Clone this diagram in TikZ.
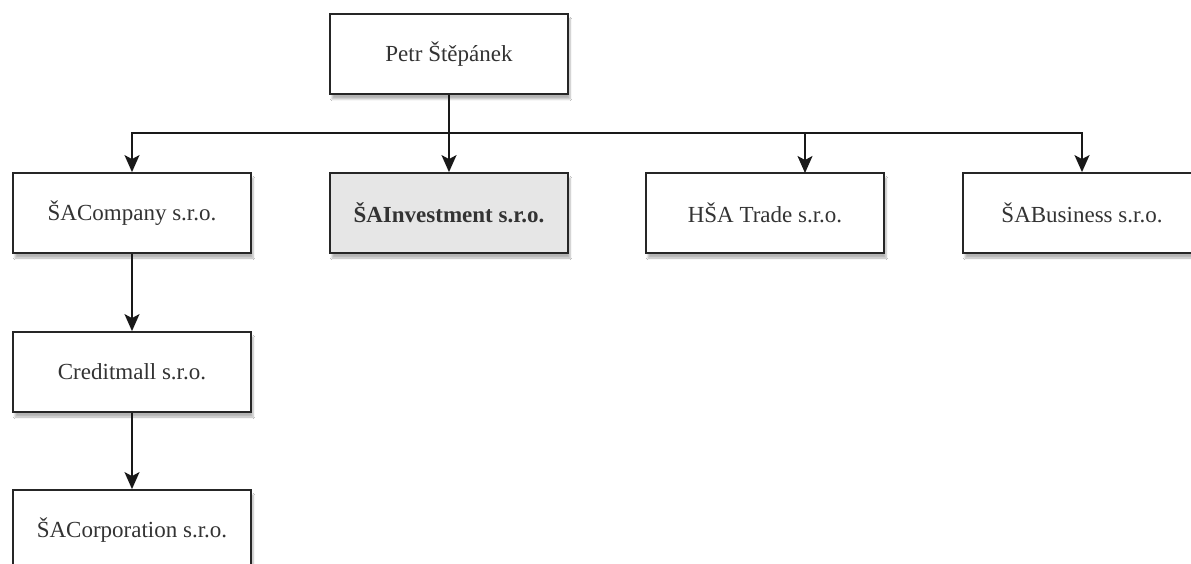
\documentclass[tikz,border=0pt]{standalone}
\usepackage{fontspec}
\setmainfont{Liberation Serif}
\usetikzlibrary{arrows.meta,shadows.blur}
\definecolor{txt}{HTML}{333333}
\definecolor{hl}{HTML}{E6E6E6}
\tikzset{
  orgbox/.style={draw=black!85, line width=1.8pt, fill=white, minimum width=238pt, minimum height=80pt,
    text=txt, font=\fontsize{23}{27}\selectfont,
    blur shadow={shadow xshift=2pt, shadow yshift=-5pt, shadow blur steps=6, shadow opacity=30}},
  arr/.style={line width=1.8pt, draw=black!90, -{Stealth[length=17pt,width=15pt,inset=4pt]}},
  ln/.style={line width=1.8pt, draw=black!90}
}
\begin{document}
\begin{tikzpicture}[x=1pt,y=-1pt]
\useasboundingbox (0,0) rectangle (1191,564);
\clip (0,0) rectangle (1191,564);
\fill[white] (0,0) rectangle (1191,564);
\node[orgbox] (top) at (449,54) {Petr Štěpánek};
\node[orgbox] (comp) at (132,213) {ŠACompany s.r.o.};
\node[orgbox, fill=hl, font=\fontsize{23}{27}\selectfont\bfseries] (inv) at (449,213) {ŠAInvestment s.r.o.};
\node[orgbox] (trade) at (765,213) {HŠA Trade s.r.o.};
\node[orgbox] (bus) at (1082,213) {ŠABusiness s.r.o.};
\node[orgbox] (cred) at (132,372) {Creditmall s.r.o.};
\node[orgbox] (corp) at (132,530) {ŠACorporation s.r.o.};
\coordinate (j) at (449,133);
\coordinate (tr) at (805,173);
\draw[arr] (top.south) -- (inv.north);
\draw[arr] (j) -| (comp.north);
\draw[arr] (j) -| (tr);
\draw[arr] (j) -| (bus.north);
\draw[arr] (comp.south) -- (cred.north);
\draw[arr] (cred.south) -- (corp.north);
\end{tikzpicture}
\end{document}
